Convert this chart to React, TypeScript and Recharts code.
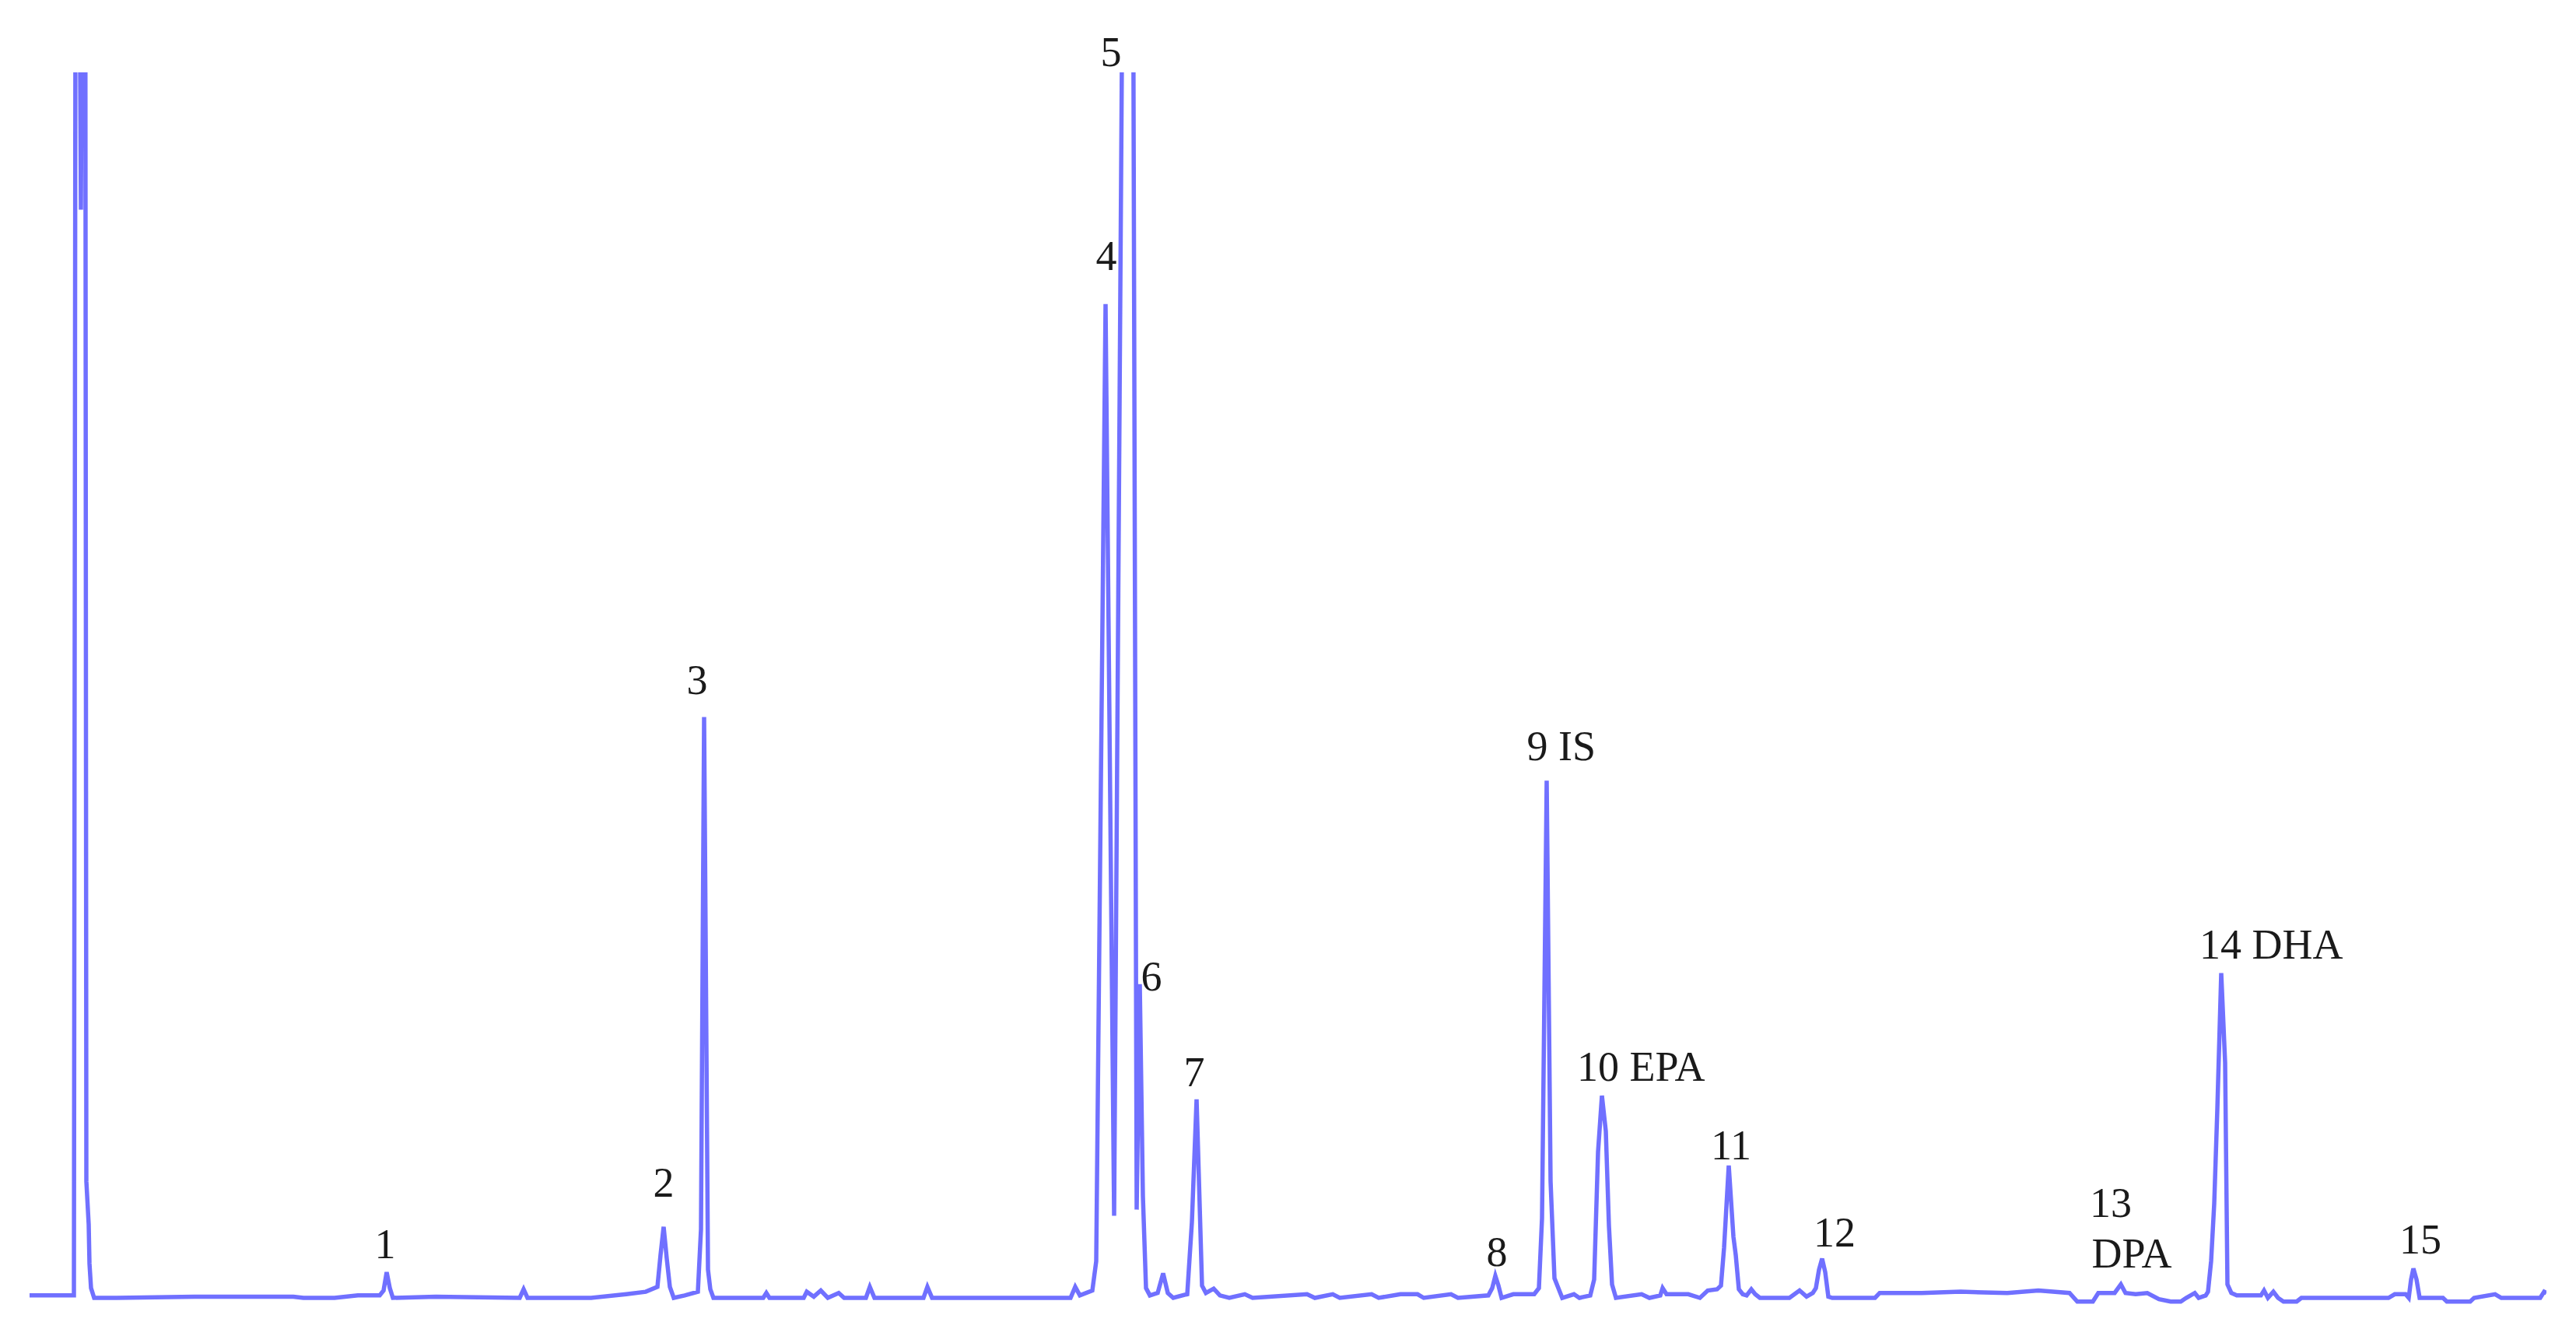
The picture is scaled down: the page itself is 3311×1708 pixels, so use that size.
import { LineChart, Line, XAxis, YAxis, ReferenceDot } from 'recharts';

// retention time (min) and detector signal (% of full scale)
const retentionTimes = [
  // solvent front
  0.0, 0.57, 0.6, 0.66, 0.71, 0.73, 0.76, 0.77, 0.79, 0.83,
  // baseline, peak 1
  1.12, 2.12, 2.49, 3.39, 3.52, 3.92, 4.22, 4.5, 4.55, 4.59, 4.63, 4.67, 5.22, 6.3, 6.35, 6.4,
  // peaks 2, 3
  7.22, 7.67, 7.92, 8.07, 8.11, 8.15, 8.19, 8.23, 8.28, 8.42, 8.59, 8.63, 8.67, 8.72, 8.75, 8.79,
  // baseline noise
  9.43, 9.47, 9.51, 9.95, 9.99, 10.08, 10.17, 10.26, 10.4, 10.47, 10.75, 10.8, 10.86, 11.49, 11.54, 11.6,
  // peaks 4, 5, 6
  13.38, 13.44, 13.5, 13.66, 13.71, 13.83, 13.94, 14.06, 14.18, 14.23, 14.27, 14.31, 14.35, 14.4, 14.5, 14.57, 14.63, 14.7,
  // peak 7
  14.88, 14.94, 15.0, 15.07, 15.12, 15.22, 15.3, 15.42, 15.62, 15.72, 16.42, 16.52, 16.75, 16.84, 17.25, 17.34, 17.62, 17.84,
  17.92, 18.27, 18.36,
  // peaks 8, 9, 10
  18.75, 18.8, 18.84, 18.88, 18.92, 19.07, 19.34, 19.4, 19.44, 19.5, 19.55, 19.6, 19.65, 19.7, 19.85, 19.92, 20.06, 20.11,
  20.16, 20.21, 20.26, 20.3, 20.34, 20.39,
  // peaks 11, 12
  20.72, 20.82, 20.96, 20.99, 21.04, 21.32, 21.47, 21.57, 21.69, 21.74, 21.78, 21.84, 21.9, 21.93, 21.97, 22.02, 22.07,
  22.13, 22.18, 22.24, 22.62, 22.75, 22.84, 22.92, 22.96, 23.0, 23.04, 23.08, 23.12, 23.17,
  // peak 13
  23.72, 23.78, 24.32, 24.82, 25.42, 25.82, 26.22, 26.32, 26.52, 26.59, 26.8, 26.88, 26.94, 27.07, 27.22, 27.37, 27.52,
  27.65, 27.72, 27.83, 27.88, 27.97,
  // peaks 14, 15
  28.0, 28.04, 28.08, 28.12, 28.17, 28.22, 28.25, 28.3, 28.37, 28.68, 28.72, 28.77, 28.84, 28.9, 28.97, 29.14, 29.2, 30.32,
  30.4, 30.54, 30.58, 30.61, 30.64, 30.68, 30.72, 31.02, 31.07, 31.37, 31.42, 31.69, 31.77, 32.27, 32.32, 32.35,
];

const signal = [
  0.2, 0.2, 160, 88.8, 160, 9.5, 6.0, 2.8, 0.8, 0,
  0, 0.1, 0.1, 0.1, 0, 0, 0.2, 0.2, 0.6, 2.1, 0.8, 0, 0.1, 0, 0.7, 0,
  0, 0.3, 0.5, 0.9, 3.5, 5.8, 3.2, 0.9, 0, 0.2, 0.5, 5.6, 47.4, 2.3, 0.7, 0,
  0, 0.4, 0, 0, 0.5, 0.1, 0.6, 0, 0.4, 0, 0, 0.9, 0, 0, 0.9, 0,
  0, 0.9, 0.2, 0.6, 3.0, 81.1, 6.7, 120, 120, 7.2, 25.6, 8.3, 0.8, 0.2, 0.4, 2.0, 0.4, 0,
  0.3, 6.2, 16.2, 1.0, 0.4, 0.75, 0.2, 0, 0.3, 0, 0.3, 0, 0.3, 0, 0.3, 0, 0.3, 0.3,
  0, 0.3, 0,
  0.2, 0.8, 1.8, 1.0, 0, 0.3, 0.3, 0.8, 6.5, 42.2, 9.5, 1.6, 0.8, 0, 0.3, 0, 0.2, 1.5,
  11.9, 16.5, 13.6, 5.9, 1.1, 0,
  0.3, 0, 0.2, 0.8, 0.3, 0.3, 0, 0.6, 0.7, 1.0, 4.1, 10.8, 5.0, 3.5, 0.7, 0.3, 0.2,
  0.7, 0.3, 0, 0, 0.6, 0.1, 0.4, 0.8, 2.3, 3.2, 2.1, 0.1, 0,
  0, 0.4, 0.4, 0.5, 0.4, 0.6, 0.4, -0.3, -0.3, 0.4, 0.4, 1.1, 0.4, 0.3, 0.4, -0.1, -0.3,
  -0.3, 0, 0.4, 0, 0.2,
  0.5, 3.0, 7.7, 15.4, 26.5, 19.2, 1.1, 0.4, 0.2, 0.2, 0.6, 0, 0.5, 0, -0.3, -0.3, 0, 0,
  0.3, 0.3, 0, 1.5, 2.4, 1.5, 0, 0, -0.3, -0.3, 0, 0.3, 0, 0, 0.5, 0.4,
];

// peak annotations: text, retention time of the number, signal level of the text baseline
const labelTexts = ['1', '2', '3', '4', '5', '6', '7', '8', '9 IS', '10 EPA', '11', '12', '13', 'DPA', '14 DHA', '15'];
const labelTimes = [4.57, 8.15, 8.58, 13.84, 13.9, 14.42, 14.97, 18.86, 19.38, 20.16, 21.88, 23.2, 26.75, 27.02, 28.16, 30.73];
const labelLevels = [3.24, 8.25, 49.3, 83.9, 100.5, 25.1, 17.3, 2.6, 43.9, 17.7, 11.3, 4.2, 6.6, 2.5, 27.7, 3.6];

const FONT_SIZE = 54;
const LINE_COLOR = '#7070ff';

const data = retentionTimes.map((t, i) => ({ t, signal: signal[i] }));

function PeakLabel({ cx, cy, text }: { cx: number; cy: number; text: string }) {
  const [num, ...rest] = text.split(' ');
  const common = {
    y: cy,
    fontSize: FONT_SIZE,
    fontFamily: "'Liberation Serif', 'Times New Roman', serif",
    fill: '#1a1a1a',
  };
  if (!/^\d+$/.test(num)) {
    return (
      <text {...common} x={cx} textAnchor="middle">
        {text}
      </text>
    );
  }
  // centre the number over its peak, let the name run on to the right
  const numWidth = num.length * FONT_SIZE * 0.5;
  return (
    <text {...common} x={cx - numWidth / 2} textAnchor="start">
      {rest.length ? `${num} ${rest.join(' ')}` : num}
    </text>
  );
}

export default function App() {
  return (
    <div
      style={{
        position: 'absolute',
        left: 0,
        top: 0,
        width: 3311,
        height: 1708,
        background: '#ffffff',
      }}
    >
      <LineChart
        width={3311}
        height={1708}
        data={data}
        margin={{ top: 93, right: 38, bottom: 24.25, left: 38 }}
      >
        <XAxis dataKey="t" type="number" domain={[0, 32.35]} allowDataOverflow hide />
        <YAxis type="number" domain={[-1, 100]} allowDataOverflow hide />
        <Line
          type="linear"
          dataKey="signal"
          stroke={LINE_COLOR}
          strokeWidth={5.5}
          dot={false}
          activeDot={false}
          isAnimationActive={false}
        />
        {labelTexts.map((text, i) => (
          <ReferenceDot
            key={text}
            x={labelTimes[i]}
            y={labelLevels[i]}
            ifOverflow="visible"
            shape={(p: any) => <PeakLabel cx={p.cx} cy={p.cy} text={text} />}
          />
        ))}
      </LineChart>
    </div>
  );
}
